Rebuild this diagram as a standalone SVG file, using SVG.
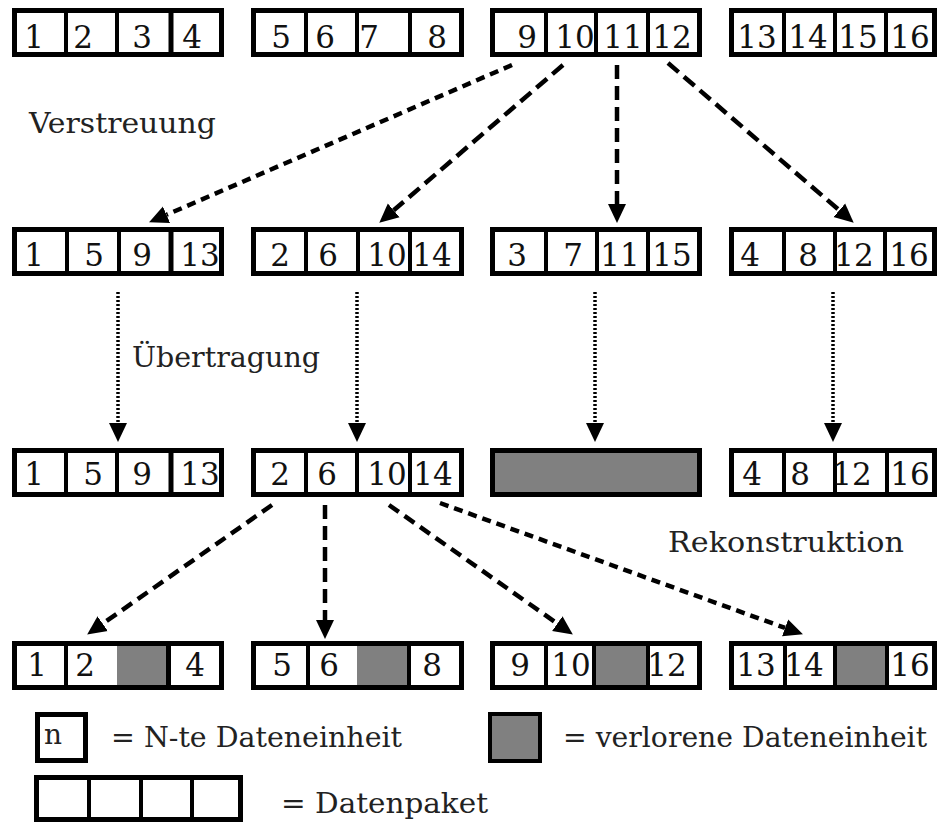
<svg xmlns="http://www.w3.org/2000/svg" width="939" height="823" viewBox="0 0 939 823">
<style>
.box{fill:#fff;stroke:#000;stroke-width:5}
.lost{fill:#808080;stroke:#000;stroke-width:5}
.grey{fill:#808080;stroke:none}
.div{stroke:#000;stroke-width:4}
.num{font-family:"DejaVu Serif","Liberation Serif",serif;font-size:31px;fill:#111;text-anchor:middle}
.lbl{font-family:"DejaVu Serif","Liberation Serif",serif;font-size:27px;fill:#222}
.dash{fill:none;stroke:#000;stroke-width:4.5}
.short{stroke-dasharray:9 6}
.med{stroke-dasharray:12 7}
.long{stroke-dasharray:14 7}
.dot{fill:none;stroke:#000;stroke-width:3.5;stroke-dasharray:2 2}
</style>
<defs>
<marker id="ah" markerUnits="userSpaceOnUse" markerWidth="19" markerHeight="19" viewBox="0 -9.5 19 19" refX="0" refY="0" orient="auto">
<path d="M0,-9 L19,0 L0,9 Z" fill="#000"/>
</marker>
</defs>

<!-- Row 1 -->
<g id="r1p1">
<rect class="box" x="14.5" y="10.5" width="207" height="44"/>
<line class="div" x1="66" y1="10" x2="66" y2="55"/><line class="div" x1="117" y1="10" x2="117" y2="55"/><line class="div" x1="171" y1="10" x2="171" y2="55" style="stroke-width:5"/>
<text class="num" x="34" y="48">1</text><text class="num" x="83" y="48">2</text><text class="num" x="142" y="48">3</text><text class="num" x="192" y="48">4</text>
</g>
<g id="r1p2">
<rect class="box" x="253.5" y="10.5" width="208" height="44"/>
<line class="div" x1="306" y1="10" x2="306" y2="55"/><line class="div" x1="357" y1="10" x2="357" y2="55"/><line class="div" x1="410" y1="10" x2="410" y2="55"/>
<text class="num" x="281" y="48">5</text><text class="num" x="325" y="48">6</text><text class="num" x="369" y="48">7</text><text class="num" x="437" y="48">8</text>
</g>
<g id="r1p3">
<rect class="box" x="492.5" y="10.5" width="207" height="44"/>
<line class="div" x1="546" y1="10" x2="546" y2="55"/><line class="div" x1="596" y1="10" x2="596" y2="55"/><line class="div" x1="648" y1="10" x2="648" y2="55"/>
<text class="num" x="527" y="48">9</text><text class="num" x="575" y="48">10</text><text class="num" x="623" y="48">11</text><text class="num" x="672" y="48">12</text>
</g>
<g id="r1p4">
<rect class="box" x="731.5" y="10.5" width="203" height="44"/>
<line class="div" x1="784" y1="10" x2="784" y2="55"/><line class="div" x1="835" y1="10" x2="835" y2="55"/><line class="div" x1="886" y1="10" x2="886" y2="55"/>
<text class="num" x="757" y="48">13</text><text class="num" x="808" y="48">14</text><text class="num" x="858" y="48">15</text><text class="num" x="910" y="48">16</text>
</g>

<!-- Row 2 -->
<g id="r2p1">
<rect class="box" x="14.5" y="229.5" width="207" height="44"/>
<line class="div" x1="67" y1="229" x2="67" y2="274"/><line class="div" x1="119" y1="229" x2="119" y2="274"/><line class="div" x1="171" y1="229" x2="171" y2="274" style="stroke-width:5"/>
<text class="num" x="34" y="266">1</text><text class="num" x="94" y="266">5</text><text class="num" x="142" y="266">9</text><text class="num" x="200" y="266">13</text>
</g>
<g id="r2p2">
<rect class="box" x="253.5" y="229.5" width="208" height="44"/>
<line class="div" x1="306" y1="229" x2="306" y2="274"/><line class="div" x1="358" y1="229" x2="358" y2="274"/><line class="div" x1="410" y1="229" x2="410" y2="274"/>
<text class="num" x="280" y="266">2</text><text class="num" x="328" y="266">6</text><text class="num" x="387" y="266">10</text><text class="num" x="432" y="266">14</text>
</g>
<g id="r2p3">
<rect class="box" x="492.5" y="229.5" width="207" height="44"/>
<line class="div" x1="546" y1="229" x2="546" y2="274"/><line class="div" x1="597" y1="229" x2="597" y2="274"/><line class="div" x1="648" y1="229" x2="648" y2="274"/>
<text class="num" x="517" y="266">3</text><text class="num" x="573" y="266">7</text><text class="num" x="620" y="266">11</text><text class="num" x="672" y="266">15</text>
</g>
<g id="r2p4">
<rect class="box" x="731.5" y="229.5" width="203" height="44"/>
<line class="div" x1="784" y1="229" x2="784" y2="274"/><line class="div" x1="835" y1="229" x2="835" y2="274"/><line class="div" x1="885" y1="229" x2="885" y2="274"/>
<text class="num" x="750" y="266">4</text><text class="num" x="808" y="266">8</text><text class="num" x="854" y="266">12</text><text class="num" x="909" y="266">16</text>
</g>

<!-- Row 3 -->
<g id="r3p1">
<rect class="box" x="14.5" y="450.5" width="207" height="44"/>
<line class="div" x1="66" y1="450" x2="66" y2="495"/><line class="div" x1="117" y1="450" x2="117" y2="495"/><line class="div" x1="171" y1="450" x2="171" y2="495" style="stroke-width:5"/>
<text class="num" x="34" y="485">1</text><text class="num" x="93" y="485">5</text><text class="num" x="142" y="485">9</text><text class="num" x="200" y="485">13</text>
</g>
<g id="r3p2">
<rect class="box" x="253.5" y="450.5" width="208" height="44"/>
<line class="div" x1="306" y1="450" x2="306" y2="495"/><line class="div" x1="357" y1="450" x2="357" y2="495"/><line class="div" x1="410" y1="450" x2="410" y2="495"/>
<text class="num" x="280" y="485">2</text><text class="num" x="327" y="485">6</text><text class="num" x="387" y="485">10</text><text class="num" x="433" y="485">14</text>
</g>
<g id="r3p3">
<rect class="lost" x="492.5" y="450.5" width="207" height="44"/>
</g>
<g id="r3p4">
<rect class="box" x="731.5" y="450.5" width="203" height="44"/>
<line class="div" x1="784" y1="450" x2="784" y2="495"/><line class="div" x1="835" y1="450" x2="835" y2="495"/><line class="div" x1="887" y1="450" x2="887" y2="495"/>
<text class="num" x="752" y="485">4</text><text class="num" x="800" y="485">8</text><text class="num" x="852" y="485">12</text><text class="num" x="910" y="485">16</text>
</g>

<!-- Row 4 -->
<g id="r4p1">
<rect class="box" x="14.5" y="643.5" width="207" height="44"/>
<rect class="grey" x="117" y="646" width="50" height="39"/>
<line class="div" x1="66" y1="643" x2="66" y2="688"/><line class="div" x1="168.5" y1="643" x2="168.5" y2="688" style="stroke-width:5"/>
<text class="num" x="37" y="676">1</text><text class="num" x="85" y="676">2</text><text class="num" x="195" y="676">4</text>
</g>
<g id="r4p2">
<rect class="box" x="253.5" y="643.5" width="208" height="44"/>
<rect class="grey" x="357" y="646" width="51" height="39"/>
<line class="div" x1="308" y1="643" x2="308" y2="688"/><line class="div" x1="409" y1="643" x2="409" y2="688"/>
<text class="num" x="282" y="676">5</text><text class="num" x="329" y="676">6</text><text class="num" x="432" y="676">8</text>
</g>
<g id="r4p3">
<rect class="box" x="492.5" y="643.5" width="207" height="44"/>
<rect class="grey" x="594" y="646" width="53" height="39"/>
<line class="div" x1="546" y1="643" x2="546" y2="688"/><line class="div" x1="594" y1="643" x2="594" y2="688"/><line class="div" x1="648" y1="643" x2="648" y2="688"/>
<text class="num" x="520" y="676">9</text><text class="num" x="571" y="676">10</text><text class="num" x="667" y="676">12</text>
</g>
<g id="r4p4">
<rect class="box" x="731.5" y="643.5" width="203" height="44"/>
<rect class="grey" x="835" y="646" width="51" height="39"/>
<line class="div" x1="785" y1="643" x2="785" y2="688"/><line class="div" x1="835" y1="643" x2="835" y2="688"/><line class="div" x1="887" y1="643" x2="887" y2="688"/>
<text class="num" x="756" y="676">13</text><text class="num" x="804" y="676">14</text><text class="num" x="910" y="676">16</text>
</g>

<!-- Connectors -->
<g id="connectors">
<line class="dash short" x1="512" y1="65" x2="166.5" y2="214.8" marker-end="url(#ah)"/>
<line class="dash long" x1="563" y1="65" x2="393.7" y2="210.3" marker-end="url(#ah)"/>
<line class="dash long" x1="617" y1="65" x2="617" y2="204" marker-end="url(#ah)"/>
<line class="dash long" x1="668" y1="63" x2="839.3" y2="210.3" marker-end="url(#ah)"/>

<line class="dot" x1="118" y1="292" x2="118" y2="423" marker-end="url(#ah)"/>
<line class="dot" x1="357" y1="292" x2="357" y2="423" marker-end="url(#ah)"/>
<line class="dot" x1="595" y1="292" x2="595" y2="423" marker-end="url(#ah)"/>
<line class="dot" x1="833" y1="292" x2="833" y2="423" marker-end="url(#ah)"/>

<line class="dash med" x1="272" y1="505" x2="102.7" y2="623.7" marker-end="url(#ah)"/>
<line class="dash long" x1="325" y1="505" x2="325" y2="620" marker-end="url(#ah)"/>
<line class="dash med" x1="389" y1="505" x2="557.3" y2="623.6" marker-end="url(#ah)"/>
<line class="dash short" x1="440" y1="503" x2="785.1" y2="627.9" marker-end="url(#ah)"/>
</g>

<!-- Labels -->
<g id="labels">
<text class="lbl" x="29" y="133" textLength="187" lengthAdjust="spacingAndGlyphs">Verstreuung</text>
<text class="lbl" x="132" y="367" textLength="188" lengthAdjust="spacingAndGlyphs">Übertragung</text>
<text class="lbl" x="668" y="552" textLength="236" lengthAdjust="spacingAndGlyphs">Rekonstruktion</text>
</g>

<!-- Legend -->
<g id="legend-n">
<rect class="box" x="37.5" y="714.5" width="48" height="46"/>
<text class="lbl" x="44" y="744" style="font-size:28px">n</text>
<text class="lbl" x="111" y="747" textLength="291" lengthAdjust="spacingAndGlyphs">= N-te Dateneinheit</text>
</g>
<g id="legend-lost">
<rect class="lost" x="490" y="714" width="50" height="47" style="stroke-width:4"/>
<text class="lbl" x="563" y="747" textLength="364" lengthAdjust="spacingAndGlyphs">= verlorene Dateneinheit</text>
</g>
<g id="legend-packet">
<rect class="box" x="36.5" y="777.5" width="204" height="42"/>
<line class="div" x1="89" y1="777" x2="89" y2="820"/><line class="div" x1="141" y1="777" x2="141" y2="820"/><line class="div" x1="192" y1="777" x2="192" y2="820"/>
<text class="lbl" x="281" y="813" textLength="207" lengthAdjust="spacingAndGlyphs">= Datenpaket</text>
</g>
</svg>
